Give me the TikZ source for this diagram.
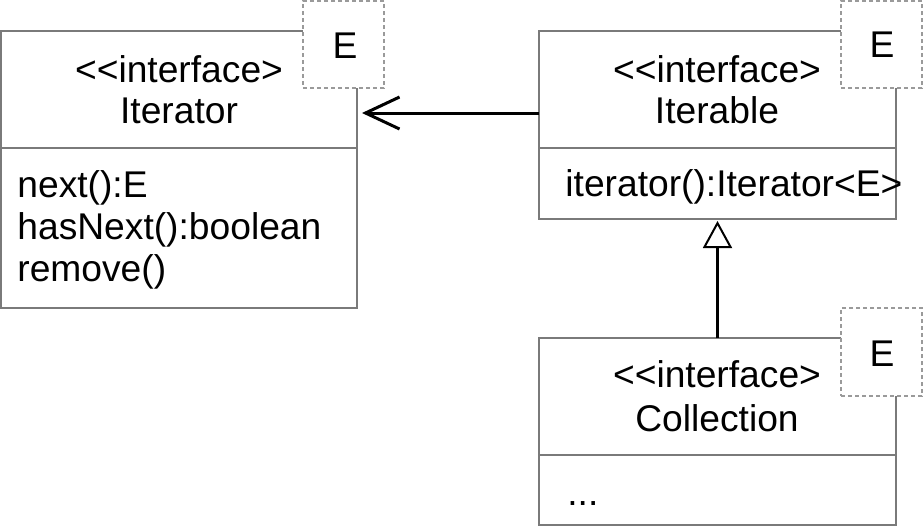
\documentclass[tikz,border=0pt]{standalone}
\usepackage{fontspec}
\setmainfont{Liberation Sans}
\usetikzlibrary{arrows.meta}
\definecolor{boxgray}{HTML}{7A7A7A}
\definecolor{dashgray}{HTML}{9A9A9A}
\begin{document}
\begin{tikzpicture}[x=0.5pt,y=-0.5pt,
  box/.style={draw=boxgray, line width=0.6pt, fill=white, inner sep=0pt, outer sep=0pt, anchor=north west, minimum width=178pt},
  ebox/.style={draw=dashgray, dash pattern=on 2pt off 1.5pt, line width=0.6pt, fill=white, inner sep=0pt, outer sep=0pt, anchor=north west, minimum width=40.5pt, minimum height=43.5pt},
  txt/.style={inner sep=0pt, anchor=base, font=\fontsize{18.6}{20.7}\selectfont},
  ltxt/.style={txt, anchor=base west},
  conn/.style={line width=1.5pt, draw=black}]
\useasboundingbox (0,0) rectangle (923,527);
% Iterator
\node[box, minimum height=58.5pt] (itHead) at (1,31) {};
\node[box, minimum height=80pt] (itBody) at (1,148) {};
\node[ebox] (itE) at (303,1) {};
\node[txt] (itE1) at (345,58) {E};
\node[txt] (itT1) at (179,82) {<\kern0pt<interface>};
\node[txt] (itT2) at (179,123) {Iterator};
\node[ltxt] (itM1) at (17,197) {next():E};
\node[ltxt] (itM2) at (17,239) {hasNext():boolean};
\node[ltxt] (itM3) at (17,281) {remove()};
% Iterable
\node[box, minimum width=178.5pt, minimum height=58.5pt] (ibHead) at (539,31) {};
\node[box, minimum width=178.5pt, minimum height=35.5pt] (ibBody) at (539,148) {};
\node[ebox] (ibE) at (841,1) {};
\node[txt] (ibE1) at (882,57) {E};
\node[txt] (ibT1) at (717,82) {<\kern0pt<interface>};
\node[txt] (ibT2) at (717,123) {Iterable};
\node[ltxt] (ibM1) at (565,196) {iterator():Iterator<E>};
% Collection
\node[box, minimum width=178.5pt, minimum height=58.5pt] (coHead) at (539,338) {};
\node[box, minimum width=178.5pt, minimum height=35pt] (coBody) at (539,455) {};
\node[ebox, minimum height=44pt] (coE) at (841,308) {};
\node[txt] (coE1) at (882,366) {E};
\node[txt] (coT1) at (717,387) {<\kern0pt<interface>};
\node[txt] (coT2) at (717,431) {Collection};
\node[ltxt] (coM1) at (567,505) {...};
% connectors
\coordinate (ay) at (0,113);
\draw[conn, -{Straight Barb[length=17pt, width=16pt]}, shorten >=2.5pt] (ibHead.west |- ay) -- (itHead.east |- ay);
\draw[conn, -{Triangle[open, fill=white, length=13.5pt, width=14.5pt, line width=1pt]}, shorten >=1pt] (coHead.north) -- (ibBody.south);
\end{tikzpicture}
\end{document}
